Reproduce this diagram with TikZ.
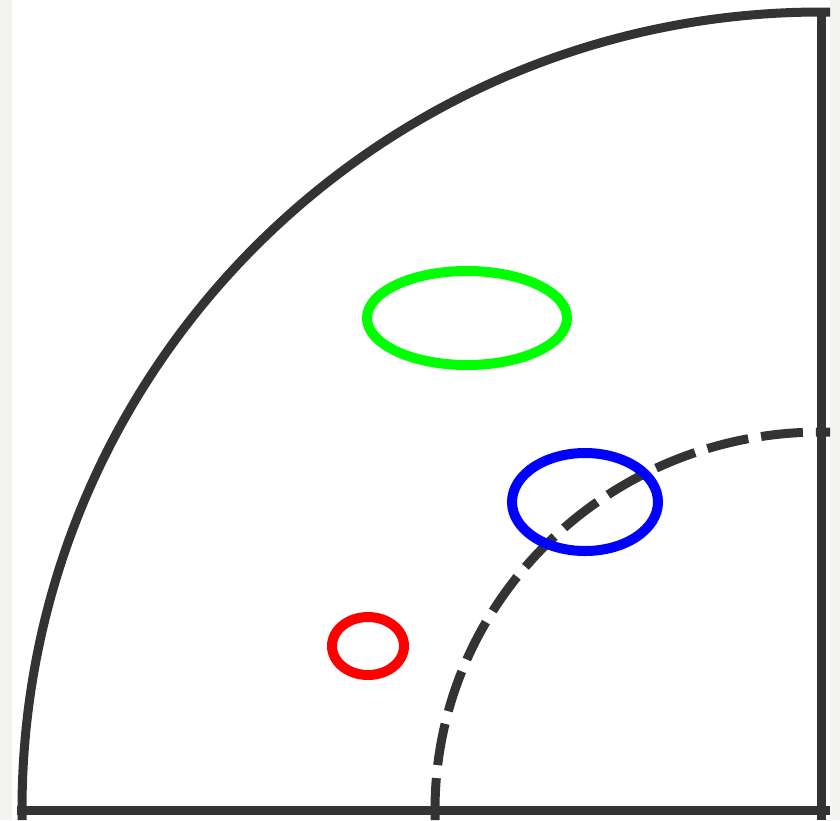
\documentclass[tikz,border=0pt]{standalone}
\begin{document}
\begin{tikzpicture}[x=1pt,y=-1pt,
  dk/.style={draw=black!80,line width=9pt},
  ring/.style={line width=10pt},
]
\definecolor{edge}{HTML}{F3F4EF}
\fill[edge] (0,0) rectangle (840,820);
\fill[white] (12,0) rectangle (830,820);
\useasboundingbox (0,0) rectangle (840,820);
\coordinate (c) at (821,810);
% outer arc
\draw[dk] (22,820) -- (22,810) arc[start angle=180,end angle=270,x radius=799,y radius=798] -- (830,12);
% right edge
\draw[dk] (821,16) -- (821,820);
% bottom edge
\draw[dk] (17,810) -- (830,810);
% dashed inner arc
\draw[dk,dash pattern=on 42pt off 13pt] (435,820) -- (435,810) arc[start angle=180,end angle=270,x radius=386,y radius=378] -- (830,432);
% ellipses
\draw[ring,draw={rgb,255:red,0;green,255;blue,0}] (467,318) ellipse[x radius=100,y radius=47] node (g) {};
\draw[ring,draw={rgb,255:red,0;green,0;blue,255}] (585,502) ellipse[x radius=73,y radius=49] node (b) {};
\draw[ring,draw={rgb,255:red,255;green,0;blue,0}] (368,646) ellipse[x radius=36,y radius=29] node (r) {};
\end{tikzpicture}
\end{document}
